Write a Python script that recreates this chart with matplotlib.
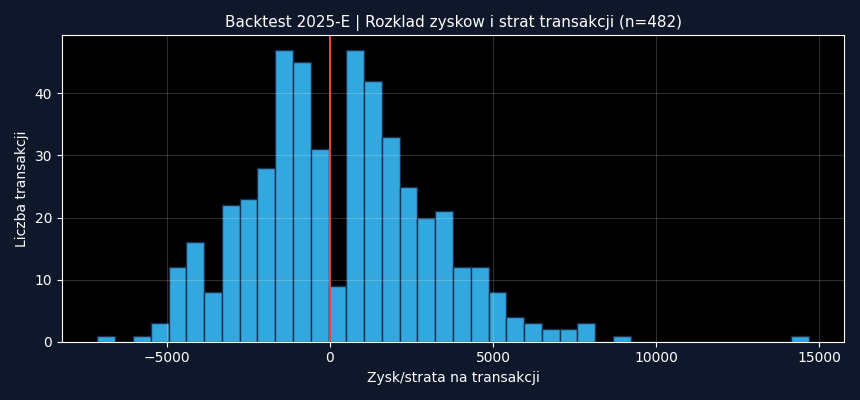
import numpy as np
import matplotlib
matplotlib.use("Agg")
import matplotlib.pyplot as plt

# histogram: 40 bins between min and max trade result
pnl_min = -7120
pnl_max = 14668
counts = [1, 0, 1, 3, 12, 16, 8, 22, 23, 28, 47, 45, 31,
          9, 47, 42, 33, 25, 20, 21, 12, 12, 8, 4, 3, 2, 2, 3, 0, 1,
          0, 0, 0, 0, 0, 0, 0, 0, 0, 1]

edges = np.linspace(pnl_min, pnl_max, len(counts) + 1)

bg = '#0f172a'
fig, ax = plt.subplots(figsize=(8.6, 4), dpi=100)
fig.patch.set_facecolor(bg)
ax.set_facecolor('black')

ax.hist(edges[:-1], bins=edges, weights=counts, color='#33a8de',
        edgecolor='#1b3050', linewidth=1.0)
ax.axvline(0, color='#e5443c', linewidth=1.5)

# grid stays above the bars, as in the reference
ax.grid(True, color='#ffffff', alpha=0.18, linewidth=0.8)
for s in ax.spines.values():
    s.set_color('white')
ax.tick_params(colors='white', labelsize=10)

ax.set_title('Backtest 2025-E | Rozklad zyskow i strat transakcji (n=482)',
             color='white', fontsize=11)
ax.set_xlabel('Zysk/strata na transakcji', color='white', fontsize=10)
ax.set_ylabel('Liczba transakcji', color='white', fontsize=10)

plt.tight_layout()
plt.savefig('out.png', facecolor=bg)
